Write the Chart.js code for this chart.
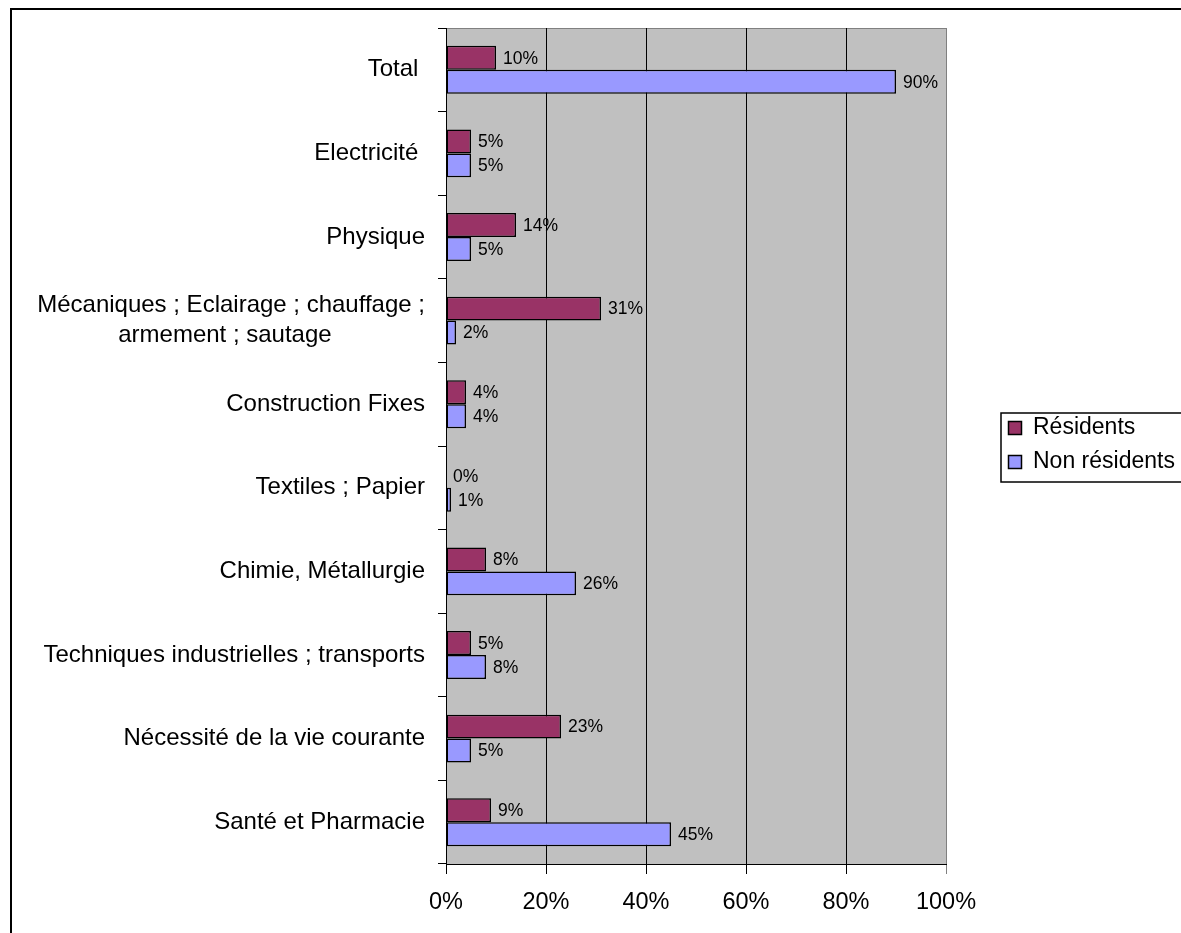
<!DOCTYPE html>
<html>
<head>
<meta charset="utf-8">
<script src="https://cdn.jsdelivr.net/npm/chart.js@4/dist/chart.umd.min.js"></script>
<style>
  html, body { margin: 0; padding: 0; background: #fff; }
  canvas { display: block; }
</style>
</head>
<body>
<canvas id="graphique" width="1181" height="933"></canvas>
<script>
const categories = [
  "Total ",
  "Electricité ",
  "Physique",
  ["Mécaniques ; Eclairage ; chauffage ;", "armement ; sautage" + " ".repeat(14)],
  "Construction Fixes",
  "Textiles ; Papier",
  "Chimie, Métallurgie",
  "Techniques industrielles ; transports",
  "Nécessité de la vie courante",
  "Santé et Pharmacie"
];

const residents = [10, 5, 14, 31, 4, 0, 8, 5, 23, 9];
const nonResidents = [90, 5, 5, 2, 4, 1, 26, 8, 5, 45];

const ticksX = [0, 20, 40, 60, 80, 100];

const police = "'Liberation Sans', Arial, sans-serif";

// fond gris de la zone de tracé + cadre extérieur
const fondPlugin = {
  id: "fond",
  beforeDraw(chart){
    const ctx = chart.ctx;
    const a = chart.chartArea;
    ctx.save();
    ctx.fillStyle = "#ffffff";
    ctx.fillRect(0, 0, chart.width, chart.height);
    ctx.lineWidth = 2;
    ctx.strokeStyle = "#000000";
    ctx.strokeRect(11, 9, 1400, 1200);
    ctx.fillStyle = "#c0c0c0";
    ctx.fillRect(a.left, a.top, a.right - a.left, a.bottom - a.top);
    ctx.lineWidth = 1;
    ctx.strokeStyle = "#808080";
    ctx.strokeRect(a.left + 0.5, a.top + 0.5, a.right - a.left, a.bottom - a.top);
    ctx.restore();
  }
};

// étiquettes de valeur à droite des barres
const etiquettesPlugin = {
  id: "etiquettes",
  afterDatasetsDraw(chart){
    const ctx = chart.ctx;
    ctx.save();
    ctx.font = "17.5px " + police;
    ctx.fillStyle = "#000";
    ctx.textAlign = "left";
    ctx.textBaseline = "middle";
    chart.data.datasets.forEach((ds, i) => {
      chart.getDatasetMeta(i).data.forEach((bar, j) => {
        ctx.fillText(ds.data[j] + "%", bar.x + 7, bar.y + 1);
      });
    });
    ctx.restore();
  }
};

// légende encadrée à droite
const legendePlugin = {
  id: "legende",
  afterDraw(chart){
    const ctx = chart.ctx;
    ctx.save();
    ctx.lineWidth = 1.5;
    ctx.strokeStyle = "#000";
    ctx.strokeRect(1001, 413, 300, 69);
    ctx.font = "23px " + police;
    ctx.textBaseline = "middle";
    chart.data.datasets.forEach((ds, i) => {
      const y = 428 + i * 34;
      ctx.fillStyle = ds.backgroundColor;
      ctx.fillRect(1008, y - 7, 14, 14);
      ctx.lineWidth = 1.5;
      ctx.strokeRect(1008.5, y - 6.5, 13, 13);
      ctx.fillStyle = "#000";
      ctx.fillText(ds.label, 1033, y);
    });
    ctx.restore();
  }
};

new Chart(document.getElementById("graphique"), {
  type: "bar",
  data: {
    labels: categories,
    datasets: [
      {
        label: "Résidents",
        data: residents,
        backgroundColor: "#993366",
        borderColor: "#000",
        borderWidth: 1.5,
        borderSkipped: false
      },
      {
        label: "Non résidents",
        data: nonResidents,
        backgroundColor: "#9999ff",
        borderColor: "#000",
        borderWidth: 1.5,
        borderSkipped: false
      }
    ]
  },
  options: {
    indexAxis: "y",
    responsive: false,
    animation: false,
    devicePixelRatio: 1,
    categoryPercentage: 0.573,
    barPercentage: 1,
    layout: { padding: { left: 0, top: 24, right: 235, bottom: 0 } },
    plugins: {
      legend: { display: false },
      tooltip: { enabled: false }
    },
    scales: {
      x: {
        min: 0,
        max: 100,
        afterBuildTicks(scale){
          scale.ticks = ticksX.map(v => ({ value: v }));
        },
        afterFit(scale){
          scale.height = 69;
        },
        ticks: {
          callback: v => v + "%",
          color: "#000",
          padding: 14,
          font: { family: police, size: 23.5 }
        },
        grid: {
          color: ctx => (ctx.tick && ctx.tick.value === 100) ? "#808080" : "#000",
          lineWidth: 1,
          tickLength: 10,
          drawTicks: true
        },
        border: { color: "#000", width: 1 }
      },
      y: {
        afterFit(scale){
          scale.width = 446;
        },
        ticks: {
          autoSkip: false,
          color: "#000",
          padding: 13,
          font: { family: police, size: 24, lineHeight: 1.25 }
        },
        grid: {
          drawOnChartArea: false,
          drawTicks: true,
          tickLength: 8,
          color: "#000"
        },
        border: { color: "#000", width: 1 }
      }
    }
  },
  plugins: [fondPlugin, etiquettesPlugin, legendePlugin]
});
</script>
</body>
</html>
